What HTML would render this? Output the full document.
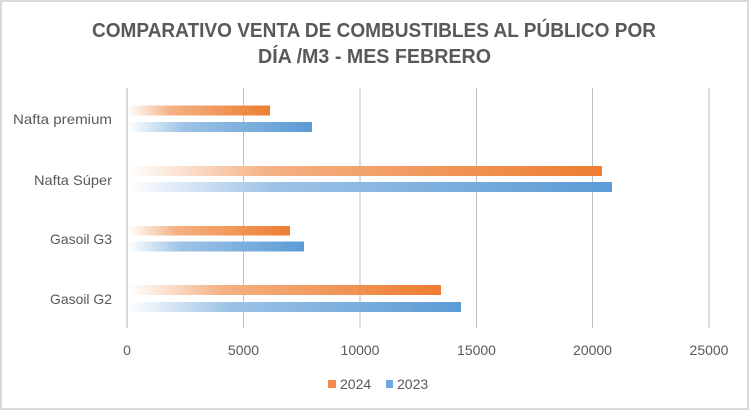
<!DOCTYPE html>
<html><head><meta charset="utf-8"><style>
html,body{margin:0;padding:0;background:#fff}
svg{display:block}
text{font-family:"Liberation Sans",sans-serif;fill:#595959}
</style></head><body>
<svg width="750" height="412" viewBox="0 0 750 412" xmlns="http://www.w3.org/2000/svg">
<defs>
<linearGradient id="go" x1="0" x2="1" y1="0" y2="0">
<stop offset="0" stop-color="#fff" stop-opacity="1"/>
<stop offset="0.3" stop-color="#f4b183"/>
<stop offset="1" stop-color="#ed7d31"/>
</linearGradient>
<linearGradient id="gb" x1="0" x2="1" y1="0" y2="0">
<stop offset="0" stop-color="#fff" stop-opacity="1"/>
<stop offset="0.3" stop-color="#9dc3e6"/>
<stop offset="1" stop-color="#5b9bd5"/>
</linearGradient>
</defs>
<rect x="1" y="1" width="747" height="408" fill="#fff" stroke="#d9d9d9" stroke-width="2"/>
<text x="374" y="37" text-anchor="middle" font-size="20" font-weight="bold" textLength="564" lengthAdjust="spacingAndGlyphs">COMPARATIVO VENTA DE COMBUSTIBLES AL PÚBLICO POR</text>
<text x="374.5" y="63" text-anchor="middle" font-size="20" font-weight="bold" textLength="233" lengthAdjust="spacingAndGlyphs">DÍA /M3 - MES FEBRERO</text>
<g stroke="#bfbfbf" stroke-width="1">
<line x1="243.5" y1="88" x2="243.5" y2="328"/>
<line x1="360" y1="88" x2="360" y2="328"/>
<line x1="476.5" y1="88" x2="476.5" y2="328"/>
<line x1="592.5" y1="88" x2="592.5" y2="328"/>
<line x1="709" y1="88" x2="709" y2="328"/>
</g>
<line x1="127" y1="88" x2="127" y2="328" stroke="#d9d9d9" stroke-width="2"/>
<rect x="128" y="105.5" width="142" height="10" fill="url(#go)"/>
<rect x="128" y="122" width="184" height="10" fill="url(#gb)"/>
<rect x="128" y="166" width="474" height="10" fill="url(#go)"/>
<rect x="128" y="182" width="484" height="10" fill="url(#gb)"/>
<rect x="128" y="226" width="162" height="9.5" fill="url(#go)"/>
<rect x="128" y="241.5" width="176" height="10" fill="url(#gb)"/>
<rect x="128" y="285" width="313" height="10" fill="url(#go)"/>
<rect x="128" y="302" width="333" height="10" fill="url(#gb)"/>
<g font-size="14" text-anchor="end">
<text x="112" y="124" textLength="99" lengthAdjust="spacingAndGlyphs">Nafta premium</text>
<text x="112" y="185" textLength="78" lengthAdjust="spacingAndGlyphs">Nafta Súper</text>
<text x="112" y="244" textLength="62" lengthAdjust="spacingAndGlyphs">Gasoil G3</text>
<text x="112" y="304" textLength="62" lengthAdjust="spacingAndGlyphs">Gasoil G2</text>
</g>
<g font-size="14" text-anchor="middle">
<text x="127" y="355">0</text>
<text x="243.5" y="355">5000</text>
<text x="360" y="355">10000</text>
<text x="476.5" y="355">15000</text>
<text x="592.5" y="355">20000</text>
<text x="709" y="355">25000</text>
</g>
<rect x="328" y="380" width="8" height="8" fill="#f08c4a"/>
<text x="340" y="389" font-size="14">2024</text>
<rect x="386" y="380" width="7" height="8" fill="#6fa8dc"/>
<text x="397" y="389" font-size="14">2023</text>
</svg>
</body></html>
